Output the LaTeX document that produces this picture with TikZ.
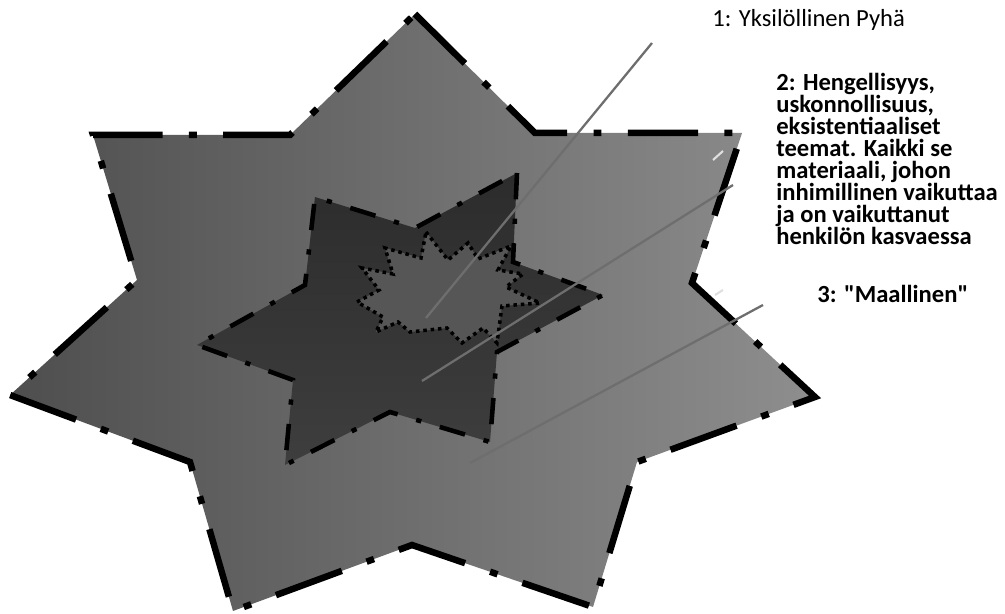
\documentclass[tikz,border=0pt]{standalone}
\usepackage{fontspec}
\setmainfont{Carlito}[Ligatures=TeXOff]
\usetikzlibrary{positioning}

\begin{document}
\begin{tikzpicture}[
    x=0.02cm, y=-0.02cm,
    outer star/.style={
        left color={rgb,255:red,78;green,78;blue,78},
        middle color={rgb,255:red,116;green,116;blue,116},
        right color={rgb,255:red,142;green,142;blue,142},
        draw=black, line width=3.7pt,
        dash pattern=on 40pt off 15pt on 4.5pt off 15pt
    },
    inner star/.style={
        top color={rgb,255:red,44;green,44;blue,44},
        bottom color={rgb,255:red,62;green,62;blue,62},
        draw=black, line width=2.6pt,
        dash pattern=on 15pt off 11pt on 3pt off 11pt
    },
    core star/.style={
        fill={rgb,255:red,86;green,86;blue,86},
        draw=black, line width=2pt,
        dash pattern=on 2pt off 2.2pt
    },
    pointer/.style={draw={rgb,255:red,110;green,110;blue,110}, line width=1.3pt},
    faint/.style={draw=gray!25, line width=1.2pt},
    lbl/.style={anchor=base west, inner sep=0pt, align=left,
        font=\fontsize{14}{12.6}\selectfont},
    lbl bold/.style={lbl, font=\fontsize{14}{12.6}\selectfont\bfseries}
]

\useasboundingbox (0,0) rectangle (1005,614);

% ------------------------------------------------------------------------------
% 1. ULKOTÄHTI (seitsemän sakaraa)
% ------------------------------------------------------------------------------
\path[outer star] (415,14) -- (535,133) -- (742,133) -- (692,283) -- (815,397)
    -- (637,462) -- (593,607) -- (412,545) -- (233,611) -- (190,462)
    -- (10,395) -- (137,280) -- (93,135) -- (290,135) -- cycle;

% ------------------------------------------------------------------------------
% 2. SISÄTÄHTI (kuusi sakaraa)
% ------------------------------------------------------------------------------
\path[inner star] (517,173) -- (513,262) -- (603,295) -- (497,352) -- (490,442)
    -- (390,412) -- (285,465) -- (293,380) -- (197,345) -- (305,285)
    -- (315,197) -- (415,228) -- cycle;

% ------------------------------------------------------------------------------
% 3. PIENIN TÄHTI (kaksitoista sakaraa)
% ------------------------------------------------------------------------------
\path[core star] (426,232) -- (448,260) -- (468,243) -- (478,259) -- (511,246)
    -- (498,270) -- (523,274) -- (506,287) -- (540,303) -- (502,306)
    -- (497,343) -- (483,328) -- (462,343) -- (447,328) -- (410,332)
    -- (398,322) -- (376,332) -- (383,317) -- (357,302) -- (379,290)
    -- (362,268) -- (393,274) -- (385,248) -- (421,258) -- cycle;

% ------------------------------------------------------------------------------
% 4. TEKSTIT (base = viimeisen rivin perusviiva)
% ------------------------------------------------------------------------------
\node[lbl] (pyha) at (712,27) {1: Yksilöllinen Pyhä};
\node[lbl bold] (henki) at (776,245) {2: Hengellisyys,\\uskonnollisuus,\\eksistentiaaliset\\teemat. Kaikki se\\materiaali, johon\\inhimillinen vaikuttaa\\ja on vaikuttanut\\henkilön kasvaessa};
\node[lbl bold] (maal) at (817,303) {3: "Maallinen"};

% ------------------------------------------------------------------------------
% 5. VIIVAT
% ------------------------------------------------------------------------------
\coordinate (a1) at (652,43);  \coordinate (b1) at (426,318);
\coordinate (a2) at (733,185); \coordinate (b2) at (422,381);
\coordinate (a3) at (763,305); \coordinate (b3) at (470,463);

\foreach \i in {1,2,3} {
    \draw[pointer] (a\i) -- (b\i);
}

\draw[faint] (713,160) -- (723,151);
\draw[faint] (715,295) -- (723,290);

\end{tikzpicture}
\end{document}
